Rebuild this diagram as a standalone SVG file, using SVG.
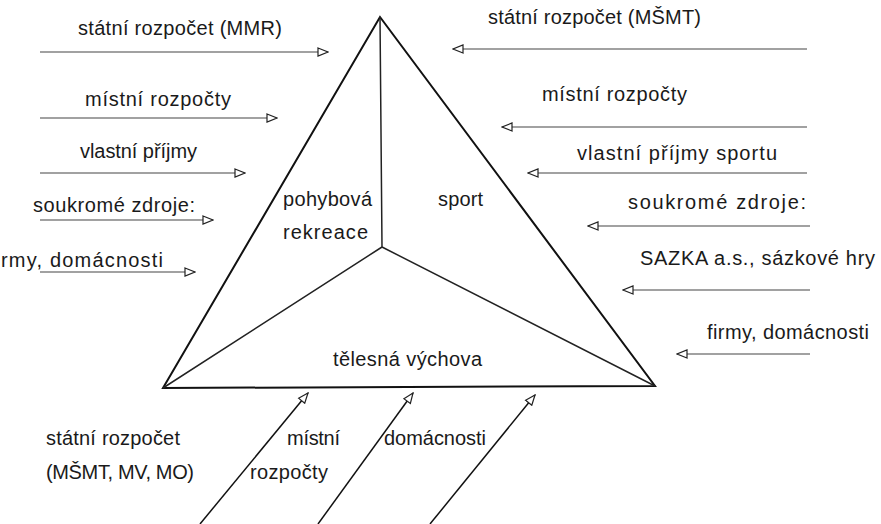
<svg xmlns="http://www.w3.org/2000/svg" width="881" height="524" viewBox="0 0 881 524">
<style>
text{font-family:"Liberation Sans",Arial,sans-serif;font-size:20px;fill:#1a1a1a}
.flow{stroke:#444;stroke-width:1.2;fill:none;marker-end:url(#ah)}
.up{stroke:#111;stroke-width:1.5;fill:none;marker-end:url(#ah)}
.edge{stroke:#111;stroke-width:2;fill:none;stroke-linejoin:miter}
.inner{stroke:#222;stroke-width:1.5;fill:none}
</style>
<defs>
<marker id="ah" viewBox="0 0 12 10" refX="11" refY="5" markerWidth="12" markerHeight="10" markerUnits="userSpaceOnUse" orient="auto">
<path d="M1,1 L11,5 L1,9 z" fill="#fff" stroke="#222" stroke-width="1.2"/>
</marker>
</defs>
<g id="triangle">
<path class="edge" d="M380,17 L655,386 L163,388 Z"/>
<path class="inner" d="M380,17 L382,247 M382,247 L163,388 M382,247 L655,386"/>
</g>
<g id="node-pohybova">
<text x="283" y="206" textLength="89" lengthAdjust="spacing">pohybová</text>
<text x="283" y="239" textLength="85" lengthAdjust="spacing">rekreace</text>
</g>
<g id="node-sport">
<text x="438" y="206" textLength="45" lengthAdjust="spacing">sport</text>
</g>
<g id="node-telesna">
<text x="333" y="366" textLength="149" lengthAdjust="spacing">tělesná výchova</text>
</g>
<g id="labels-left">
<text x="78" y="35" textLength="204" lengthAdjust="spacing">státní rozpočet (MMR)</text>
<text x="85" y="106" textLength="146" lengthAdjust="spacing">místní rozpočty</text>
<text x="80" y="158" textLength="117" lengthAdjust="spacing">vlastní příjmy</text>
<text x="33" y="212" textLength="162" lengthAdjust="spacing">soukromé zdroje:</text>
<text x="1" y="267" textLength="162" lengthAdjust="spacing">rmy, domácnosti</text>
</g>
<g id="labels-right">
<text x="488" y="24" textLength="213" lengthAdjust="spacing">státní rozpočet (MŠMT)</text>
<text x="542" y="101" textLength="145" lengthAdjust="spacing">místní rozpočty</text>
<text x="577" y="160" textLength="200" lengthAdjust="spacing">vlastní příjmy sportu</text>
<text x="628" y="209" textLength="178" lengthAdjust="spacing">soukromé zdroje:</text>
<text x="640" y="265" textLength="235" lengthAdjust="spacing">SAZKA a.s., sázkové hry</text>
<text x="707" y="339" textLength="162" lengthAdjust="spacing">firmy, domácnosti</text>
</g>
<g id="labels-bottom">
<text x="46" y="445" textLength="134" lengthAdjust="spacing">státní rozpočet</text>
<text x="46" y="479" textLength="148" lengthAdjust="spacing">(MŠMT, MV, MO)</text>
<text x="287" y="445" textLength="53" lengthAdjust="spacing">místní</text>
<text x="250" y="479" textLength="78" lengthAdjust="spacing">rozpočty</text>
<text x="384" y="445" textLength="102" lengthAdjust="spacing">domácnosti</text>
</g>
<g id="connectors">
<line class="flow" x1="40" y1="52" x2="328" y2="52"/>
<line class="flow" x1="40" y1="118" x2="277" y2="118"/>
<line class="flow" x1="40" y1="173" x2="245" y2="173"/>
<line class="flow" x1="40" y1="220" x2="213" y2="220"/>
<line class="flow" x1="40" y1="272" x2="195" y2="272"/>
<line class="flow" x1="807" y1="49" x2="453" y2="49"/>
<line class="flow" x1="807" y1="127" x2="502" y2="127"/>
<line class="flow" x1="807" y1="173" x2="528" y2="173"/>
<line class="flow" x1="810" y1="226" x2="588" y2="226"/>
<line class="flow" x1="810" y1="290" x2="623" y2="290"/>
<line class="flow" x1="810" y1="354" x2="677" y2="354"/>
<line class="up" x1="200" y1="524" x2="308" y2="393"/>
<line class="up" x1="318" y1="524" x2="413" y2="393"/>
<line class="up" x1="430" y1="524" x2="535" y2="395"/>
</g>
</svg>
